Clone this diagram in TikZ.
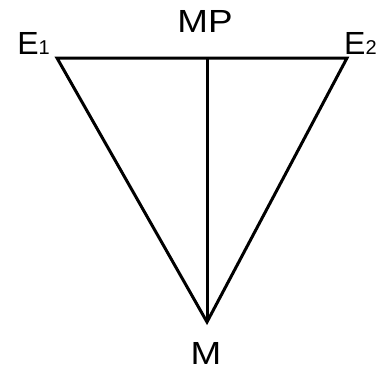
\documentclass[tikz,border=0pt]{standalone}
\usepackage{fontspec}
\setmainfont{Liberation Sans}

\newcommand{\idx}[1]{{\fontsize{20}{20}\selectfont #1}}

\begin{document}
\begin{tikzpicture}[x=1pt, y=-1pt,
    every node/.style={font=\fontsize{32}{32}\selectfont, inner sep=0pt},
    side/.style={line width=3pt, black}]
  \useasboundingbox (0,0) rectangle (392,372);

  % corners of the triangle
  \coordinate (e1) at (57,58);
  \coordinate (e2) at (347,58);
  \coordinate (mp) at (207,58);
  \coordinate (m) at (207,322);

  \draw[side] (e1) -- (e2) -- (m) -- cycle;
  \draw[side] (mp) -- (m);

  \node[anchor=base east] (e1lbl) at (50,55) {E\idx{1}};
  \node[anchor=base west] (e2lbl) at (344,55) {E\idx{2}};
  \node[anchor=base, xscale=1.15] (mplbl) at (205,33) {MP};
  \node[anchor=base, xscale=1.15] (mlbl) at (206,364) {M};
\end{tikzpicture}
\end{document}
